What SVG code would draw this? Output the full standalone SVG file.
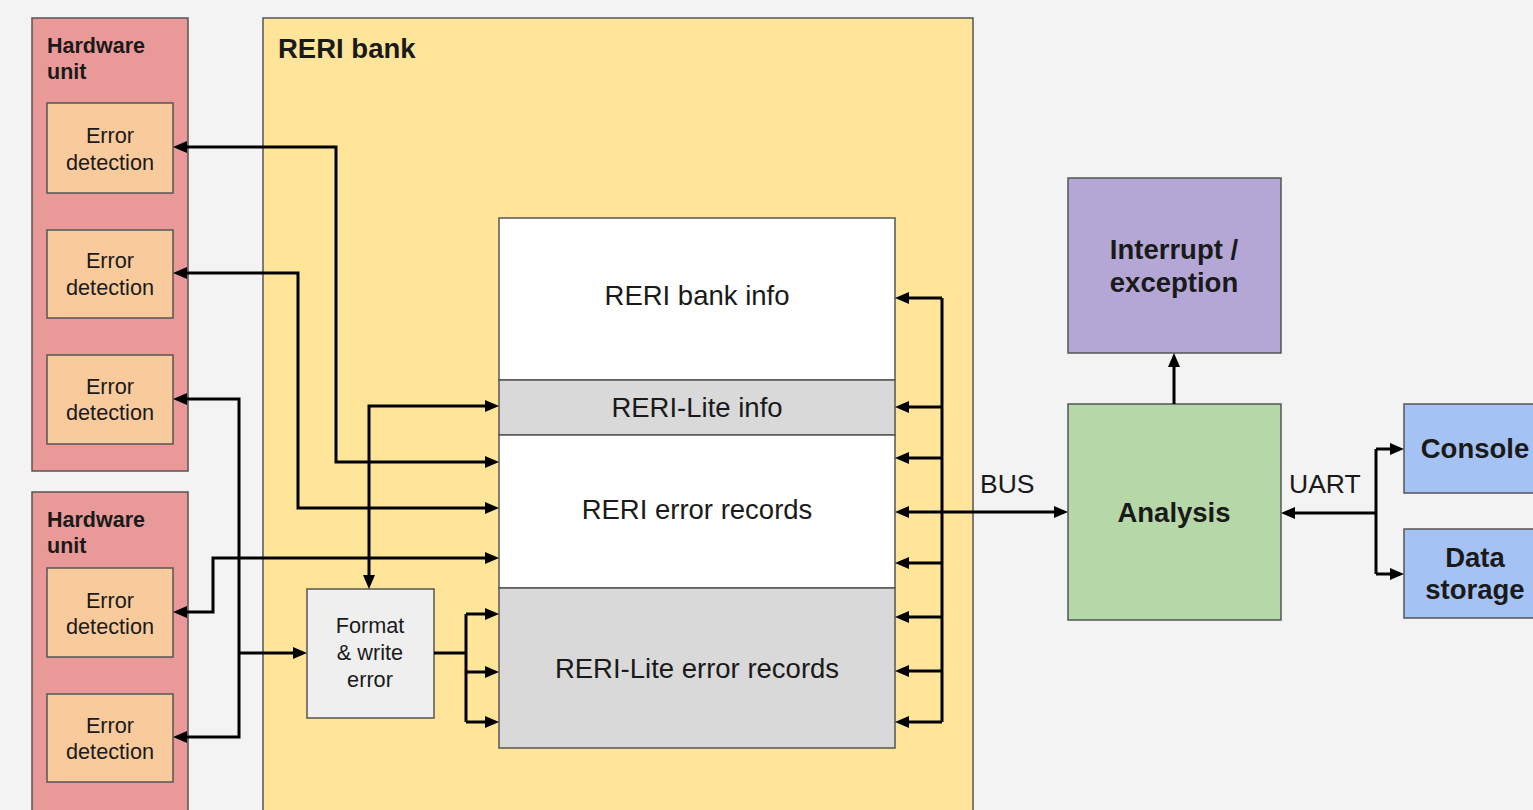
<svg xmlns="http://www.w3.org/2000/svg" width="1533" height="810" viewBox="0 0 1533 810">
<style>
text{font-family:"Liberation Sans",Arial,sans-serif;fill:#1a1a1a}
.b{font-weight:bold}
.box{stroke:#555;stroke-width:1.5}
.hw{fill:#ea9999}
.ed{fill:#f9cb9c}
.c{fill:none;stroke:#000;stroke-width:3}
.ed text{font-size:21.7px;text-anchor:middle}
.m{text-anchor:middle}
.L{font-size:27.5px}
.S{font-size:21.7px}
</style>
<defs>
<marker id="ah" viewBox="0 0 14 12" refX="10" refY="6" markerWidth="14" markerHeight="12" markerUnits="userSpaceOnUse" orient="auto-start-reverse">
<path d="M0,0 L14,6 L0,12 z" fill="#000"/>
</marker>
</defs>
<rect width="1533" height="810" fill="#f3f3f3"/>

<g id="hw1">
<rect class="box hw" x="32" y="18" width="156" height="453"/>
<text class="b" x="47" y="53" font-size="21.5">Hardware</text>
<text class="b" x="47" y="79" font-size="21.5">unit</text>
</g>
<g id="hw2">
<rect class="box hw" x="32" y="492" width="156" height="330"/>
<text class="b" x="47" y="527" font-size="21.5">Hardware</text>
<text class="b" x="47" y="553" font-size="21.5">unit</text>
</g>
<g id="ed1" class="ed"><rect class="box" x="47" y="103" width="126" height="90"/><text x="110" y="143">Error</text><text x="110" y="170">detection</text></g>
<g id="ed2" class="ed"><rect class="box" x="47" y="230" width="126" height="88"/><text x="110" y="268">Error</text><text x="110" y="295">detection</text></g>
<g id="ed3" class="ed"><rect class="box" x="47" y="355" width="126" height="89"/><text x="110" y="394">Error</text><text x="110" y="420">detection</text></g>
<g id="ed4" class="ed"><rect class="box" x="47" y="568" width="126" height="89"/><text x="110" y="608">Error</text><text x="110" y="634">detection</text></g>
<g id="ed5" class="ed"><rect class="box" x="47" y="694" width="126" height="88"/><text x="110" y="733">Error</text><text x="110" y="759">detection</text></g>

<g id="reri-bank">
<rect class="box" x="263" y="18" width="710" height="804" fill="#ffe599"/>
<text class="b L" x="278" y="58">RERI bank</text>
</g>
<g id="bank-info">
<rect class="box" x="499" y="218" width="396" height="162" fill="#ffffff"/>
<text class="m L" x="697" y="305">RERI bank info</text>
</g>
<g id="lite-info">
<rect class="box" x="499" y="380" width="396" height="55" fill="#d9d9d9" stroke="#333" stroke-width="2"/>
<text class="m L" x="697" y="417">RERI-Lite info</text>
</g>
<g id="error-records">
<rect class="box" x="499" y="435" width="396" height="153" fill="#ffffff"/>
<text class="m L" x="697" y="519">RERI error records</text>
</g>
<g id="lite-error-records">
<rect class="box" x="499" y="588" width="396" height="160" fill="#d9d9d9" stroke="#222" stroke-width="2.5"/>
<text class="m L" x="697" y="678">RERI-Lite error records</text>
</g>
<g id="format">
<rect class="box" x="307" y="589" width="127" height="129" fill="#efefef"/>
<text class="m S" x="370" y="633">Format</text>
<text class="m S" x="370" y="660">&amp; write</text>
<text class="m S" x="370" y="687">error</text>
</g>

<g id="interrupt">
<rect class="box" x="1068" y="178" width="213" height="175" fill="#b4a7d6"/>
<text class="b m L" x="1174" y="259">Interrupt /</text>
<text class="b m L" x="1174" y="292">exception</text>
</g>
<g id="analysis">
<rect class="box" x="1068" y="404" width="213" height="216" fill="#b6d7a8"/>
<text class="b m L" x="1174" y="522">Analysis</text>
</g>
<g id="console">
<rect class="box" x="1404" y="404" width="142" height="89" fill="#a4c2f4"/>
<text class="b m L" x="1475" y="458">Console</text>
</g>
<g id="storage">
<rect class="box" x="1404" y="529" width="142" height="89" fill="#a4c2f4"/>
<text class="b m L" x="1475" y="567">Data</text>
<text class="b m L" x="1475" y="599">storage</text>
</g>

<g id="connectors">
<path class="c" d="M177,147 H336 V462 H495" marker-start="url(#ah)" marker-end="url(#ah)"/>
<path class="c" d="M177,273 H298 V508 H495" marker-start="url(#ah)" marker-end="url(#ah)"/>
<path class="c" d="M177,399 H239 V737 H177" marker-start="url(#ah)" marker-end="url(#ah)"/>
<path class="c" d="M239,653 H303" marker-end="url(#ah)"/>
<path class="c" d="M177,612 H213 V558 H495" marker-start="url(#ah)" marker-end="url(#ah)"/>
<path class="c" d="M495,406 H369 V585" marker-start="url(#ah)" marker-end="url(#ah)"/>
<path class="c" d="M434,653 H466 M466,614 V722"/>
<path class="c" d="M466,614 H495" marker-end="url(#ah)"/>
<path class="c" d="M466,672 H495" marker-end="url(#ah)"/>
<path class="c" d="M466,722 H495" marker-end="url(#ah)"/>
<path class="c" d="M942,298 V722"/>
<path class="c" d="M942,298 H899" marker-end="url(#ah)"/>
<path class="c" d="M942,407 H899" marker-end="url(#ah)"/>
<path class="c" d="M942,458 H899" marker-end="url(#ah)"/>
<path class="c" d="M942,512 H899" marker-end="url(#ah)"/>
<path class="c" d="M942,563 H899" marker-end="url(#ah)"/>
<path class="c" d="M942,617 H899" marker-end="url(#ah)"/>
<path class="c" d="M942,671 H899" marker-end="url(#ah)"/>
<path class="c" d="M942,722 H899" marker-end="url(#ah)"/>
<path class="c" d="M942,512 H1064" marker-end="url(#ah)"/>
<path class="c" d="M1174,404 V357" marker-end="url(#ah)"/>
<path class="c" d="M1376,513 H1285" marker-end="url(#ah)"/>
<path class="c" d="M1376,449 V574"/>
<path class="c" d="M1376,449 H1400" marker-end="url(#ah)"/>
<path class="c" d="M1376,574 H1400" marker-end="url(#ah)"/>
<text x="980" y="493" font-size="26.5">BUS</text>
<text x="1289" y="493" font-size="26.5">UART</text>
</g>
</svg>
